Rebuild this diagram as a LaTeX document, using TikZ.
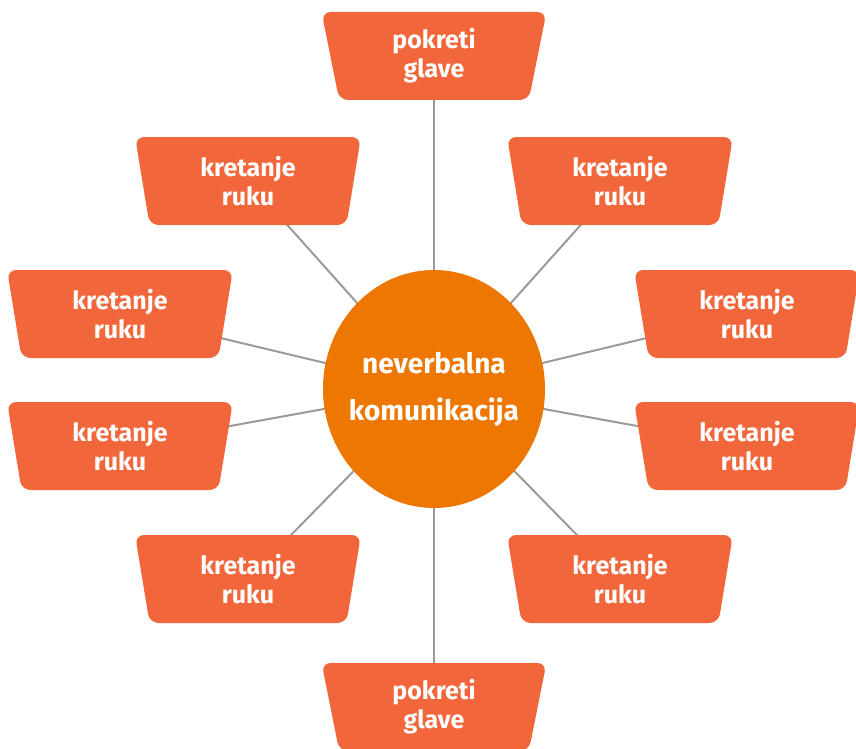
\documentclass[tikz,border=0pt]{standalone}
\usepackage{fontspec}
\setmainfont{Fira Sans}
\usetikzlibrary{shapes.geometric,backgrounds}
\definecolor{boxorange}{HTML}{F1673B}
\definecolor{huborange}{HTML}{EE7702}
\definecolor{spokegray}{HTML}{9A9A9A}

\begin{document}
\begin{tikzpicture}[x=1pt,y=-1pt,
  box/.style={trapezium,shape border rotate=180,trapezium left angle=82,
    trapezium right angle=82,trapezium stretches=true,minimum width=226pt,
    minimum height=88pt,inner sep=0pt,fill=boxorange,rounded corners=9pt,
    text=white,align=center,font=\fontsize{25}{29}\selectfont\bfseries},
  hub/.style={ellipse,fill=huborange,minimum width=222pt,minimum height=238pt,
    inner xsep=-8pt,inner ysep=0pt,text=white,align=center,
    font=\fontsize{28}{47}\selectfont\bfseries},
  spoke/.style={draw=spokegray,line width=2pt}]
\useasboundingbox (0,0) rectangle (856,749);

\node[hub] (hub) at (434,389) {neverbalna\\komunikacija};

\node[box] (topbox) at (434,56) {pokreti\\glave};
\node[box] (botbox) at (434,707) {pokreti\\glave};

\node[box] (lup) at (248,181) {kretanje\\ruku};
\node[box] (rup) at (620,181) {kretanje\\ruku};
\node[box] (lmidup) at (120,314) {kretanje\\ruku};
\node[box] (rmidup) at (747,314) {kretanje\\ruku};
\node[box] (lmiddn) at (120,446) {kretanje\\ruku};
\node[box] (rmiddn) at (747,446) {kretanje\\ruku};
\node[box] (ldn) at (248,579) {kretanje\\ruku};
\node[box] (rdn) at (620,579) {kretanje\\ruku};

% spokes behind everything
\begin{scope}[on background layer]
\draw[spoke] (hub.center) -- (topbox.center);
\draw[spoke] (hub.center) -- (botbox.center);
\draw[spoke] (hub.center) -- (lup.center);
\draw[spoke] (hub.center) -- (rup.center);
\draw[spoke] (hub.center) -- (lmidup.center);
\draw[spoke] (hub.center) -- (rmidup.center);
\draw[spoke] (hub.center) -- (lmiddn.center);
\draw[spoke] (hub.center) -- (rmiddn.center);
\draw[spoke] (hub.center) -- (ldn.center);
\draw[spoke] (hub.center) -- (rdn.center);
\end{scope}

\end{tikzpicture}
\end{document}
